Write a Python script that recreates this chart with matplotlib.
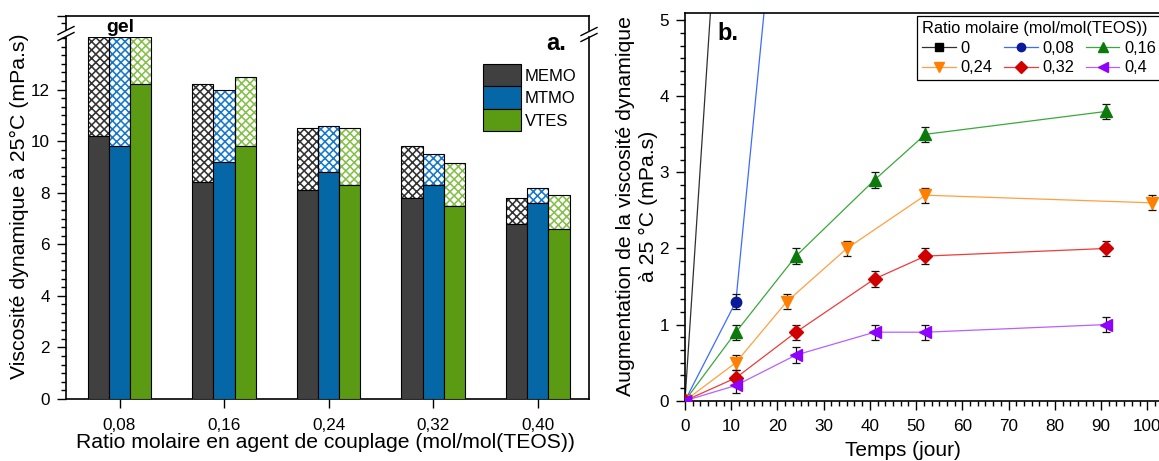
import matplotlib
matplotlib.use("Agg")
import matplotlib.pyplot as plt
import numpy as np
from matplotlib.ticker import AutoMinorLocator, MultipleLocator, FixedLocator
from matplotlib.lines import Line2D
from matplotlib.patches import Patch

plt.rcParams['font.family'] = ['Liberation Sans', 'DejaVu Sans']
plt.rcParams['hatch.linewidth'] = 1.15

# ---------------- data : panel a ----------------
ratio_labels = ['0,08', '0,16', '0,24', '0,32', '0,40']
agents = ['MEMO', 'MTMO', 'VTES']
# initial viscosity (solid part) and viscosity after ageing (top of hatched part)
memo_base = [10.2, 8.4, 8.1, 7.8, 6.8]
memo_top = [14.04, 12.2, 10.5, 9.8, 7.8]
mtmo_base = [9.8, 9.2, 8.8, 8.3, 7.6]
mtmo_top = [14.04, 12.0, 10.6, 9.5, 8.2]
vtes_base = [12.2, 9.8, 8.3, 7.5, 6.6]
vtes_top = [14.04, 12.5, 10.5, 9.15, 7.9]
yticks_a = [0, 2, 4, 6, 8, 10, 12]

# ---------------- data : panel b ----------------
series_labels = ['0', '0,08', '0,16', '0,24', '0,32', '0,4']
days_0 = [0, 11]
visc_0 = [0, 10.2]
days_008 = [0, 11, 24]
visc_008 = [0, 1.3, 9.4]
err_008 = [0, 0.1, 0]
days_016 = [0, 11, 24, 41, 52, 91]
visc_016 = [0, 0.9, 1.9, 2.9, 3.5, 3.8]
err_016 = [0, 0.1, 0.1, 0.1, 0.1, 0.1]
days_024 = [0, 11, 22, 35, 52, 101]
visc_024 = [0, 0.5, 1.3, 2.0, 2.7, 2.6]
err_024 = [0, 0.1, 0.1, 0.1, 0.1, 0.1]
days_032 = [0, 11, 24, 41, 52, 91]
visc_032 = [0, 0.3, 0.9, 1.6, 1.9, 2.0]
err_032 = [0, 0.1, 0.1, 0.1, 0.1, 0.1]
days_04 = [0, 11, 24, 41, 52, 91]
visc_04 = [0, 0.2, 0.6, 0.9, 0.9, 1.0]
err_04 = [0, 0.1, 0.1, 0.1, 0.1, 0.1]

W, H = 1159, 461
fig = plt.figure(figsize=(W / 100, H / 100), dpi=100)


def fx(px):
    return px / W


def fy(py):
    return 1 - py / H


# ================= panel a =================
L, R = 66, 589
ax_b = fig.add_axes([fx(L), fy(399), fx(R - L), (399 - 37) / H])
ax_t = fig.add_axes([fx(L), fy(30), fx(R - L), (30 - 15.7) / H])

solid_cols = ['#404040', '#0567a6', '#5b9b14']
hatch_cols = ['#333333', '#1878c8', '#86bf4c']
bases = [memo_base, mtmo_base, vtes_base]
tops = [memo_top, mtmo_top, vtes_top]
cats = np.arange(1, len(ratio_labels) + 1)
w = 0.203
for i in range(3):
    x = cats + (i - 1) * w
    b = np.array(bases[i])
    t = np.array(tops[i])
    ax_b.bar(x, t - b, w, bottom=b, facecolor='white', edgecolor=hatch_cols[i],
             hatch='xxxx', linewidth=0, zorder=2)
    ax_b.bar(x, t - b, w, bottom=b, fill=False, edgecolor='black', linewidth=0.8, zorder=3)
    ax_b.bar(x, b, w, color=solid_cols[i], edgecolor='black', linewidth=0.8, zorder=3)

ax_b.set_xlim(0.488, 5.49)
ax_b.set_ylim(0, 14.04)
ax_b.set_xticks(cats)
ax_b.set_xticklabels(ratio_labels)
ax_b.yaxis.set_major_locator(FixedLocator(yticks_a))
ax_b.yaxis.set_minor_locator(FixedLocator(np.arange(0, 14.04, 1 / 3)))
ax_b.tick_params(axis='both', direction='out', length=6.5, width=1, labelsize=12.3, pad=5)
ax_b.tick_params(axis='x', pad=7)
ax_b.tick_params(axis='y', which='minor', direction='out', length=3.5, width=1)
ax_b.tick_params(axis='x', which='minor', length=0)
ax_b.spines['top'].set_visible(False)
for s in ['left', 'right', 'bottom']:
    ax_b.spines[s].set_linewidth(1.2)

ax_t.set_xlim(0.488, 5.49)
ax_t.set_ylim(0, 1)
ax_t.set_xticks([])
ax_t.yaxis.set_major_locator(FixedLocator([1.0]))
ax_t.yaxis.set_minor_locator(FixedLocator([0.5]))
ax_t.set_yticklabels([])
ax_t.tick_params(axis='y', which='major', direction='out', length=6.5, width=1)
ax_t.tick_params(axis='y', which='minor', direction='out', length=3.5, width=1)
ax_t.spines['bottom'].set_visible(False)
for s in ['left', 'right', 'top']:
    ax_t.spines[s].set_linewidth(1.2)
ax_t.patch.set_alpha(0)

# break marks
for cx, cy in [(L, 33.5), (R, 34.5)]:
    for dy in (-3.0, 3.0):
        fig.add_artist(Line2D([fx(cx - 8), fx(cx + 8)], [fy(cy + dy + 4), fy(cy + dy - 4)],
                              color='black', lw=1.0, transform=fig.transFigure))

fig.text(fx(120), fy(27), 'gel', fontsize=14, fontweight='bold', ha='center', va='center')
fig.text(fx(556), fy(43), 'a.', fontsize=17, fontweight='bold', ha='center', va='center')

handles_a = [Patch(facecolor=solid_cols[i], edgecolor='black', linewidth=0.8) for i in range(3)]
ax_b.legend(handles_a, agents, loc='upper left', bbox_to_anchor=(fx(483), fy(64)),
            bbox_transform=fig.transFigure, frameon=False, fontsize=12,
            handlelength=2.3, handleheight=1.7, labelspacing=0.0, handletextpad=0.2,
            borderpad=0, borderaxespad=0)

fig.text(fx(19), fy(206), 'Viscosité dynamique à 25°C (mPa.s)', rotation=90,
         fontsize=15.3, ha='center', va='center')
fig.text(fx(325), fy(442), 'Ratio molaire en agent de couplage (mol/mol(TEOS))',
         fontsize=15.2, ha='center', va='center')

# ================= panel b =================
ax_r = fig.add_axes([fx(685), fy(400.7), fx(W - 685) + 0.002, (400.7 - 13.3) / H])
ax_r.set_xlim(0, (W - 685) / 4.6)
ax_r.set_ylim(0, 5.09)

specs = [
    (days_0, visc_0, None, '#000000', '#303030', 's'),
    (days_008, visc_008, err_008, '#0a1a9a', '#3d6bff', 'o'),
    (days_016, visc_016, err_016, '#0b7a0b', '#3aa83a', '^'),
    (days_024, visc_024, err_024, '#ff8000', '#ffa040', 'v'),
    (days_032, visc_032, err_032, '#d00000', '#ee3b3b', 'D'),
    (days_04, visc_04, err_04, '#9000ff', '#b860ff', '<'),
]
handles_b = []
for (d, v, e, mc, lc, mk), lab in zip(specs, series_labels):
    ax_r.plot(d, v, color=lc, lw=0.9, zorder=2)
    if e is not None:
        ax_r.errorbar(d[1:], v[1:], yerr=e[1:], fmt='none', ecolor='#111111',
                      elinewidth=0.9, capsize=3, capthick=0.9, zorder=3)
    ax_r.plot(d, v, linestyle='none', marker=mk, color=mc,
              markersize=9 if mk not in ('D', 'o') else 7.5, zorder=4)
    handles_b.append(Line2D([], [], color=lc, lw=0.9, marker=mk, markerfacecolor=mc,
                            markeredgecolor=mc, markersize=7 if mk not in ('D', 'o', 's') else 6))

ax_r.xaxis.set_major_locator(MultipleLocator(10))
ax_r.xaxis.set_minor_locator(AutoMinorLocator(6))
ax_r.yaxis.set_major_locator(MultipleLocator(1))
ax_r.yaxis.set_minor_locator(AutoMinorLocator(6))
ax_r.tick_params(axis='both', direction='out', length=6.5, width=1, labelsize=12.3, pad=5)
ax_r.tick_params(axis='x', pad=7)
ax_r.tick_params(axis='both', which='minor', direction='out', length=3.5, width=1)
ax_r.spines['right'].set_visible(False)
for s in ['left', 'top', 'bottom']:
    ax_r.spines[s].set_linewidth(1.2)

order = [0, 3, 1, 4, 2, 5]
leg = ax_r.legend([handles_b[k] for k in order], [series_labels[k] for k in order],
                  ncol=3, loc='upper left', bbox_to_anchor=(fx(917), fy(15.7)),
                  bbox_transform=fig.transFigure, title='Ratio molaire (mol/mol(TEOS))',
                  title_fontsize=11.8, fontsize=11.8, alignment='left', fancybox=False,
                  edgecolor='black', framealpha=1, borderpad=0.3, handlelength=2.05,
                  handletextpad=0.3, columnspacing=0.7, labelspacing=0.3, borderaxespad=0)
leg.get_frame().set_linewidth(0.9)

fig.text(fx(728), fy(33), 'b.', fontsize=17, fontweight='bold', ha='center', va='center')
fig.text(fx(637), fy(206), 'Augmentation de la viscosité dynamique\nà 25 °C (mPa.s)',
         rotation=90, fontsize=15.3, ha='center', va='center', multialignment='center',
         linespacing=1.2)
fig.text(fx(903), fy(450), 'Temps (jour)', fontsize=15, ha='center', va='center')

fig.savefig('out.png', dpi=100)
